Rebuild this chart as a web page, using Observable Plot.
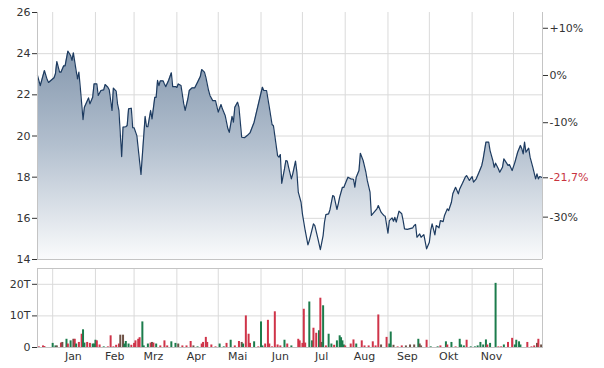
<!DOCTYPE html>
<html><head><meta charset="utf-8">
<script src="https://cdn.jsdelivr.net/npm/d3@7"></script>
<script src="https://cdn.jsdelivr.net/npm/@observablehq/plot@0.6"></script>
<style>
body{margin:0;background:#fff;}
#chart{position:relative;width:604px;height:368px;}
#chart svg{display:block;}
</style></head><body><div id="chart"></div>
<script>
const priceDates = [
"2018-12-21","2018-12-23","2018-12-26","2018-12-28","2018-12-29","2019-01-02","2019-01-03","2019-01-04","2019-01-06","2019-01-07",
"2019-01-09","2019-01-10","2019-01-12","2019-01-14","2019-01-15","2019-01-16","2019-01-18","2019-01-19","2019-01-20","2019-01-21",
"2019-01-23","2019-01-24","2019-01-27","2019-01-28","2019-01-30","2019-01-31","2019-02-02","2019-02-03","2019-02-05","2019-02-07",
"2019-02-08","2019-02-10","2019-02-11","2019-02-13","2019-02-14","2019-02-16","2019-02-17","2019-02-18","2019-02-20","2019-02-21",
"2019-02-23","2019-02-24","2019-02-25","2019-02-27","2019-02-28","2019-03-01","2019-03-03","2019-03-06","2019-03-09","2019-03-10",
"2019-03-11","2019-03-13","2019-03-14","2019-03-16","2019-03-17","2019-03-18","2019-03-19","2019-03-20","2019-03-22","2019-03-23",
"2019-03-24","2019-03-26","2019-03-28","2019-03-29","2019-03-31","2019-04-01","2019-04-02","2019-04-04","2019-04-06","2019-04-07",
"2019-04-09","2019-04-10","2019-04-12","2019-04-14","2019-04-16","2019-04-18","2019-04-19","2019-04-21","2019-04-22","2019-04-24",
"2019-04-25","2019-04-27","2019-04-29","2019-05-01","2019-05-03","2019-05-04","2019-05-06","2019-05-08","2019-05-09","2019-05-11",
"2019-05-12","2019-05-13","2019-05-15","2019-05-16","2019-05-18","2019-05-20","2019-05-22","2019-05-24","2019-05-27","2019-05-29",
"2019-05-31","2019-06-02","2019-06-03","2019-06-05","2019-06-07","2019-06-09","2019-06-10","2019-06-13","2019-06-14","2019-06-15",
"2019-06-16","2019-06-18","2019-06-19","2019-06-20","2019-06-21","2019-06-23","2019-06-24","2019-06-26","2019-06-27","2019-06-28",
"2019-06-30","2019-07-01","2019-07-03","2019-07-05","2019-07-06","2019-07-09","2019-07-10","2019-07-12","2019-07-14","2019-07-16",
"2019-07-17","2019-07-18","2019-07-20","2019-07-21","2019-07-23","2019-07-24","2019-07-26","2019-07-27","2019-07-28","2019-07-30",
"2019-07-31","2019-08-02","2019-08-03","2019-08-05","2019-08-07","2019-08-08","2019-08-09","2019-08-11","2019-08-12","2019-08-14",
"2019-08-16","2019-08-17","2019-08-19","2019-08-20","2019-08-22","2019-08-24","2019-08-25","2019-08-27","2019-08-28","2019-08-29",
"2019-08-30","2019-09-01","2019-09-02","2019-09-04","2019-09-05","2019-09-06","2019-09-07","2019-09-09","2019-09-11","2019-09-12",
"2019-09-13","2019-09-15","2019-09-17","2019-09-19","2019-09-20","2019-09-21","2019-09-22","2019-09-24","2019-09-25","2019-09-27",
"2019-09-29","2019-10-01","2019-10-02","2019-10-03","2019-10-05","2019-10-06","2019-10-08","2019-10-09","2019-10-11","2019-10-12",
"2019-10-14","2019-10-15","2019-10-17","2019-10-18","2019-10-20","2019-10-22","2019-10-23","2019-10-25","2019-10-27","2019-10-28",
"2019-10-29","2019-10-30","2019-11-01","2019-11-02","2019-11-04","2019-11-06","2019-11-08","2019-11-09","2019-11-11","2019-11-13",
"2019-11-14","2019-11-16","2019-11-17","2019-11-18","2019-11-20","2019-11-21","2019-11-23","2019-11-24","2019-11-26","2019-11-27",
"2019-11-28","2019-11-30","2019-12-02","2019-12-04","2019-12-06","2019-12-07","2019-12-08","2019-12-09","2019-12-10","2019-12-12",
"2019-12-13","2019-12-15","2019-12-17","2019-12-18","2019-12-19","2019-12-20","2019-12-22"];
const priceValues = [
22.94,22.45,23.18,22.74,22.60,22.83,23.02,23.62,23.10,23.10,
23.41,23.41,24.12,23.91,23.67,24.04,23.18,22.78,23.10,22.37,
20.80,21.40,21.85,21.56,21.88,22.53,22.53,21.97,22.21,22.24,
22.50,22.37,22.24,21.24,22.33,22.18,21.56,21.24,19.00,20.43,
20.45,20.51,21.32,21.35,20.40,20.40,20.02,18.13,20.95,20.46,
20.45,21.24,20.83,21.88,21.88,22.70,22.45,22.68,22.68,22.53,
22.40,22.70,23.07,22.40,22.40,22.36,22.53,22.45,21.56,21.24,
21.81,22.21,22.34,22.34,22.61,22.89,23.23,23.10,22.86,22.21,
21.97,21.72,21.72,21.16,21.53,21.32,21.00,20.35,20.18,20.95,
20.67,21.40,21.64,21.40,19.94,19.92,20.02,20.15,20.67,21.24,
21.81,22.37,22.21,22.21,21.40,20.56,20.50,19.05,18.97,19.10,
17.70,18.40,18.81,18.78,18.48,17.92,18.16,18.78,18.24,17.27,
16.78,16.22,15.41,14.71,14.92,15.73,15.65,15.08,14.48,15.16,
15.81,16.18,16.22,16.43,17.11,17.06,16.43,16.70,17.03,17.51,
17.50,17.84,18.00,17.92,17.90,17.51,18.00,18.32,19.16,18.81,
18.24,17.84,17.27,16.14,16.30,16.46,16.62,16.30,16.22,16.14,
16.10,15.28,15.89,16.02,15.86,16.05,15.82,16.35,16.22,15.89,
15.49,15.46,15.50,15.54,15.65,15.70,15.08,15.24,15.08,15.21,
14.52,14.84,15.41,15.73,15.20,15.65,15.54,15.89,15.84,16.14,
16.46,16.38,16.78,17.19,17.51,17.19,17.43,17.70,18.00,18.08,
17.96,17.84,18.03,17.76,17.92,18.24,18.57,18.89,19.70,19.70,
19.29,18.81,18.48,18.68,18.41,18.24,18.48,18.89,18.68,18.57,
18.61,18.32,18.72,19.21,19.54,19.38,19.13,19.70,19.21,19.41,
18.97,18.48,17.92,18.16,17.92,18.03,17.97];

const volDates = [
"2018-12-22","2018-12-25","2018-12-26","2019-01-01","2019-01-03","2019-01-04","2019-01-07","2019-01-08","2019-01-11","2019-01-12",
"2019-01-14","2019-01-16","2019-01-17","2019-01-18","2019-01-20","2019-01-22","2019-01-23","2019-01-24","2019-01-26","2019-01-28",
"2019-01-30","2019-01-31","2019-02-01","2019-02-02","2019-02-04","2019-02-07","2019-02-10","2019-02-12","2019-02-14","2019-02-16",
"2019-02-18","2019-02-19","2019-02-21","2019-02-22","2019-02-23","2019-02-25","2019-02-27","2019-03-01","2019-03-02","2019-03-04",
"2019-03-05","2019-03-07","2019-03-08","2019-03-11","2019-03-13","2019-03-14","2019-03-15","2019-03-17","2019-03-20","2019-03-23",
"2019-03-25","2019-03-28","2019-03-31","2019-04-02","2019-04-05","2019-04-08","2019-04-11","2019-04-13","2019-04-16","2019-04-19",
"2019-04-20","2019-04-22","2019-04-23","2019-04-26","2019-04-29","2019-05-02","2019-05-05","2019-05-07","2019-05-10","2019-05-13",
"2019-05-16","2019-05-18","2019-05-19","2019-05-21","2019-05-23","2019-05-24","2019-05-27","2019-05-30","2019-06-01","2019-06-02",
"2019-06-04","2019-06-06","2019-06-07","2019-06-09","2019-06-11","2019-06-13","2019-06-15","2019-06-18","2019-06-20","2019-06-23",
"2019-06-28","2019-06-29","2019-07-01","2019-07-02","2019-07-03","2019-07-06","2019-07-08","2019-07-09","2019-07-11","2019-07-13",
"2019-07-14","2019-07-15","2019-07-16","2019-07-18","2019-07-20","2019-07-22","2019-07-24","2019-07-26","2019-07-28","2019-07-29",
"2019-07-30","2019-07-31","2019-08-01","2019-08-05","2019-08-07","2019-08-09","2019-08-13","2019-08-15","2019-08-18","2019-08-21",
"2019-08-23","2019-08-25","2019-08-27","2019-08-31","2019-09-02","2019-09-03","2019-09-05","2019-09-08","2019-09-11","2019-09-14",
"2019-09-17","2019-09-20","2019-09-23","2019-09-24","2019-09-25","2019-09-29","2019-10-02","2019-10-07","2019-10-09","2019-10-13",
"2019-10-14","2019-10-17","2019-10-20","2019-10-23","2019-10-24","2019-10-26","2019-10-28","2019-10-31","2019-11-03","2019-11-05",
"2019-11-07","2019-11-09","2019-11-11","2019-11-12","2019-11-14","2019-11-18","2019-11-20","2019-11-22","2019-11-24","2019-11-27",
"2019-11-30","2019-12-02","2019-12-03","2019-12-05","2019-12-06","2019-12-11","2019-12-14","2019-12-16","2019-12-18","2019-12-19",
"2019-12-21"];
const volValues = [
0.2,0.5,0.3,1.3,0.5,0.5,1.4,1.6,2.6,1.1,
2.1,2.6,2.6,1.1,1.6,4.2,5.6,1.4,1.6,1.3,
1.1,1.1,2.3,2.1,0.8,0.2,0.2,3.7,0.2,0.7,
1.1,3.9,3.9,1.1,1.9,1.1,0.7,1.3,2.1,2.6,
3.1,8.1,0.5,1.1,1.4,1.6,1.4,1.1,0.5,2.1,
0.5,1.8,1.3,1.1,0.5,0.5,1.9,0.5,0.2,1.1,
1.6,3.2,1.6,0.8,0.2,1.1,0.2,1.3,2.3,0.5,
1.9,1.6,1.1,10.0,4.2,1.3,1.8,0.2,8.1,0.5,
1.1,8.6,1.1,0.2,11.3,0.8,0.5,2.3,1.1,0.5,
2.6,2.1,1.3,12.1,1.4,14.4,2.1,6.1,4.5,5.3,
15.6,1.6,13.2,0.5,4.2,1.1,0.7,2.1,3.7,3.1,
2.1,0.8,0.5,1.1,2.4,1.1,2.1,0.5,0.5,1.8,
0.5,10.3,0.8,3.2,1.1,4.9,0.7,0.2,0.5,0.5,
0.8,0.8,2.6,1.1,0.5,2.3,0.2,0.2,0.5,1.8,
0.8,1.6,0.2,2.6,0.8,0.5,2.3,0.2,0.2,0.5,
1.6,0.8,2.4,0.8,1.3,20.3,0.2,0.2,0.8,1.6,
2.9,0.8,2.3,1.8,0.8,1.6,0.2,0.5,1.3,2.6,
0.8];
const volKinds = [
"r","r","r","g","g","b","r","b","g","r",
"g","b","r","g","r","r","g","g","r","r",
"g","g","g","r","r","g","r","r","r","r",
"r","b","b","g","g","g","r","r","r","r",
"r","g","g","g","r","b","r","g","r","r",
"r","g","g","b","r","r","r","b","g","r",
"r","r","r","r","r","g","g","r","g","r",
"r","b","g","r","r","r","g","r","g","g",
"r","r","r","r","r","r","r","g","r","g",
"r","r","r","r","r","g","g","r","r","g",
"r","b","g","r","g","g","r","g","g","g",
"g","g","r","r","r","g","r","r","r","r",
"r","r","b","r","g","g","b","r","r","b",
"b","b","g","b","b","r","g","g","r","g",
"r","g","r","g","g","g","r","g","g","g",
"g","g","g","r","g","g","r","r","g","r",
"r","g","g","g","g","r","r","r","b","r",
"b"];

const xDomain = ["2018-12-21","2019-12-22"];
const monthStarts = ["2019-01-01","2019-02-01","2019-03-01","2019-04-01","2019-05-01","2019-06-01","2019-07-01","2019-08-01","2019-09-01","2019-10-01","2019-11-01","2019-12-01"];
const monthMids = ["2019-01-16","2019-02-15","2019-03-15","2019-04-15","2019-05-15","2019-06-15","2019-07-15","2019-08-15","2019-09-15","2019-10-15","2019-11-15"];
const monthLabels = ["Jan","Feb","Mrz","Apr","Mai","Jun","Jul","Aug","Sep","Okt","Nov"];
const priceTicks = [14,16,18,20,22,24,26];
const priceGrid = [16,18,20,22,24];
const pctTicks = [10,0,-10,-30];
const volTicks = [0,10,20];
const volTickLabels = ["0","10T","20T"];
const volGrid = [10,20];
const kindColors = {r:"#cf3449", g:"#1c7c4c", b:"#6f5247"};

const parse = d3.utcParse("%Y-%m-%d");
const dom = xDomain.map(parse);
const price = priceDates.map((d,i)=>({date:parse(d), value:priceValues[i]}));
const vol = volDates.map((d,i)=>({date:parse(d), v:volValues[i], color:kindColors[volKinds[i]]}));
const base = priceValues[0];
const last = priceValues[priceValues.length-1];
const fmtPct = p => (p>0?"+":"") + p + "%";
const lastPct = ((last/base-1)*100).toFixed(1).replace(".", ",") + "%";

const font = {fontFamily:"DejaVu Sans, Verdana, sans-serif", fontSize:"11px", color:"#333", background:"#fff", overflow:"visible"};
const gridStyle = {stroke:"#dadada", strokeOpacity:1};

function gradientDefs() {
  const defs = d3.create("svg:defs");
  const g = defs.append("linearGradient").attr("id","areaGrad")
    .attr("x1",0).attr("y1",0).attr("x2",0).attr("y2",1);
  g.append("stop").attr("offset","0%").attr("stop-color","#8598ae");
  g.append("stop").attr("offset","45%").attr("stop-color","#b2bfce");
  g.append("stop").attr("offset","100%").attr("stop-color","#fafbfc");
  return defs.node();
}

const priceChart = Plot.plot({
  width:604, height:262, marginLeft:37, marginRight:62, marginTop:12, marginBottom:3,
  style:font,
  x:{type:"utc", domain:dom, axis:null},
  y:{domain:[14,26], label:null},
  marks:[
    gradientDefs,
    Plot.gridX(monthStarts.map(parse), gridStyle),
    Plot.gridY(priceGrid, gridStyle),
    Plot.areaY(price, {x:"date", y1:14, y2:"value", fill:"url(#areaGrad)"}),
    Plot.lineY(price, {x:"date", y:"value", stroke:"#1d3b60", strokeWidth:1.2}),
    Plot.ruleX(dom, {stroke:"#c4c4c4"}),
    Plot.ruleY([14], {stroke:"#c4c4c4"}),
    Plot.axisY(priceTicks, {anchor:"left", tickSize:5, tickPadding:2, label:null}),
    Plot.axisY(pctTicks.map(p=>base*(1+p/100)), {anchor:"right", tickSize:5, tickPadding:2, label:null,
      tickFormat: v => fmtPct(Math.round((v/base-1)*100))}),
    Plot.axisY([last], {anchor:"right", tickSize:5, tickPadding:2, label:null, tickFormat: () => lastPct, fill:"#c8343f"})
  ]
});

const volChart = Plot.plot({
  width:604, height:106, marginLeft:37, marginRight:62, marginTop:6, marginBottom:21,
  style:font,
  x:{type:"utc", domain:dom},
  y:{domain:[0,25], label:null},
  marks:[
    Plot.gridX(monthStarts.map(parse), gridStyle),
    Plot.gridY(volGrid, gridStyle),
    Plot.ruleX(vol, {x:"date", y:"v", stroke:"color", strokeWidth:2}),
    Plot.frame({stroke:"#c4c4c4"}),
    Plot.axisY(volTicks, {anchor:"left", tickSize:5, tickPadding:2, label:null,
      tickFormat: v => volTickLabels[volTicks.indexOf(v)]}),
    Plot.axisX(monthMids.map(parse), {anchor:"bottom", tickSize:0, tickPadding:5, label:null,
      tickFormat: d => monthLabels[d.getUTCMonth()]})
  ]
});

document.getElementById("chart").append(priceChart, volChart);
</script></body></html>
